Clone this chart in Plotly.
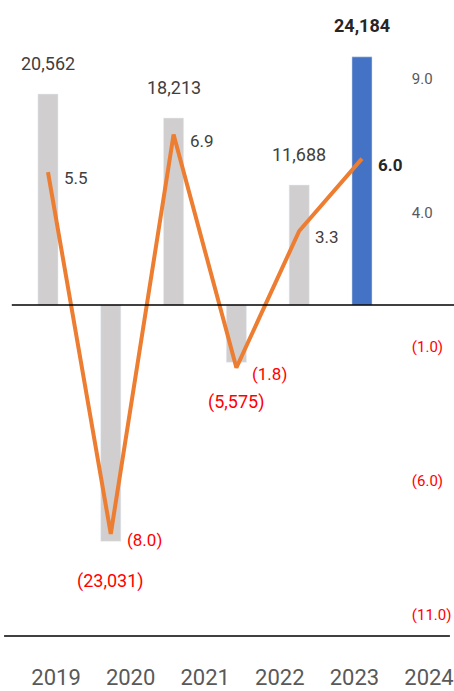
import plotly.graph_objects as go

years = ["2019", "2020", "2021", "2022", "2023", "2024"]
bar_values = [20562, -23031, 18213, -5575, 11688, 24184]
line_values = [5.5, -8.0, 6.9, -1.8, 3.3, 6.0]
right_ticks = [9.0, 4.0, -1.0, -6.0, -11.0]

FONT = "Roboto, Liberation Sans, sans-serif"
GRAY_BAR = "#D0CECE"
BLUE_BAR = "#4472C4"
ORANGE = "#ED7D31"
RED = "#FF0000"
TXT = "#404040"
AX = "#595959"

bar_colors = [GRAY_BAR] * (len(years) - 1) + [BLUE_BAR]


def fmt_int(v):
    s = f"{abs(v):,.0f}"
    return f"({s})" if v < 0 else s


def fmt_dec(v):
    s = f"{abs(v):.1f}"
    return f"({s})" if v < 0 else s


def tick_text(v):
    s = fmt_dec(v)
    return f"<span style='color:{RED}'>{s}</span>" if v < 0 else s


fig = go.Figure()
fig.add_trace(go.Bar(x=years, y=bar_values, marker_color=bar_colors, width=0.32,
                     xaxis="x", yaxis="y", hoverinfo="skip"))
fig.add_trace(go.Scatter(x=years, y=line_values, mode="lines",
                         line=dict(color=ORANGE, width=4),
                         xaxis="x", yaxis="y2", hoverinfo="skip"))
fig.add_trace(go.Scatter(x=years, y=[None] * len(years), mode="markers",
                         xaxis="x2", yaxis="y", hoverinfo="skip"))

annotations = []
last = len(years) - 1
for i, v in enumerate(bar_values):
    t = fmt_int(v)
    if i == last:
        t = "<b>" + t + "</b>"
    col = RED if v < 0 else ("#262626" if i == last else TXT)
    annotations.append(dict(
        x=i, y=v, xref="x", yref="y", text=t, showarrow=False,
        yshift=31 if v > 0 else -40,
        font=dict(family=FONT, size=18, color=col)))
for i, v in enumerate(line_values):
    t = fmt_dec(v)
    if i == last:
        t = "<b>" + t + "</b>"
    col = RED if v < 0 else ("#262626" if i == last else TXT)
    annotations.append(dict(
        x=i, y=v, xref="x", yref="y2", text=t, showarrow=False,
        xanchor="left", xshift=14, yshift=-6,
        font=dict(family=FONT, size=17, color=col)))

fig.update_layout(
    width=454, height=691,
    margin=dict(l=0, r=0, t=0, b=55),
    plot_bgcolor="white", paper_bgcolor="white",
    showlegend=False,
    font=dict(family=FONT, color=AX),
    xaxis=dict(type="category", range=[-0.764, 6.465], showticklabels=False,
               showgrid=False, zeroline=False, showline=False, ticks=""),
    xaxis2=dict(type="category", overlaying="x", anchor="y", side="bottom",
                range=[-0.751, 5.335], showgrid=False, zeroline=False, showline=False,
                ticks="", tickfont=dict(family=FONT, size=22, color=AX),
                ticklabelstandoff=26),
    yaxis=dict(range=[-32256, 29722], showticklabels=False, ticks="", showline=False,
               showgrid=False, zeroline=False),
    yaxis2=dict(overlaying="y", anchor="free", position=0.905, side="right",
                range=[-11.81, 11.92], tickvals=right_ticks,
                ticktext=[tick_text(v) for v in right_ticks],
                showgrid=False, zeroline=False, showline=False, ticks="",
                tickfont=dict(family=FONT, size=15, color=AX)),
    shapes=[
        dict(type="line", xref="paper", yref="y", x0=0.026, x1=1.0, y0=0, y1=0,
             line=dict(color="black", width=1.3)),
        dict(type="line", xref="paper", yref="paper", x0=0.009, x1=0.991, y0=0, y1=0,
             line=dict(color="black", width=1.3)),
    ],
)
for a in annotations:
    fig.add_annotation(**a)

fig.write_html("out.html")
